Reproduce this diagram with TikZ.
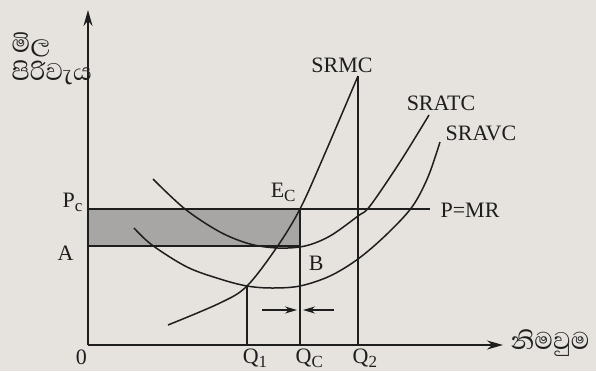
\documentclass[tikz,border=0pt]{standalone}
\usepackage{fontspec}
\setmainfont{Liberation Serif}
\newfontfamily\sinhala[Script=Sinhala]{Abhaya Libre}
\usetikzlibrary{arrows.meta}
\definecolor{paper}{RGB}{230,227,223}
\definecolor{boxgray}{RGB}{168,166,165}
\definecolor{ink}{RGB}{30,30,30}
\newcommand\lowsub[1]{\raisebox{-0.45ex}{\fontsize{8.5}{8.5}\selectfont #1}}
\begin{document}
\begin{tikzpicture}[x=0.5pt,y=-0.5pt,line width=0.75pt,draw=ink,
  lbl/.style={font=\fontsize{11}{13}\selectfont,inner sep=0pt,text=ink},
  sin/.style={font=\sinhala\fontsize{15.5}{17}\selectfont,inner sep=0pt,text=ink},
  axis/.style={line width=0.9pt,-{Stealth[length=8pt,width=4.5pt]}},
  small/.style={line width=0.7pt,-{Stealth[length=6pt,width=3.5pt]}},
  curve/.style={smooth,tension=0.55}]
\fill[paper] (0,0) rectangle (596,371);
\useasboundingbox (0,0) rectangle (596,371);
% key points
\coordinate (O) at (88,345);
\coordinate (ytip) at (88,10);
\coordinate (xtip) at (503,345);
\coordinate (Pc) at (88,209);
\coordinate (Aa) at (88,246);
\coordinate (Ec) at (300,209);
\coordinate (Bp) at (300,246);
\coordinate (PMR) at (430,209);
\coordinate (Q1top) at (247,286);
\coordinate (Q1) at (247,345);
\coordinate (Qc) at (300,345);
\coordinate (Q2top) at (358,76);
\coordinate (Q2) at (358,345);
\coordinate (la) at (262,310);
\coordinate (lb) at (297,310);
\coordinate (ra) at (334,310);
\coordinate (rb) at (303,310);
% shaded area
\fill[boxgray] (Pc) rectangle (Bp);
\draw (Pc) -- (PMR);
\draw (Aa) -- (Bp);
% verticals
\draw (Q1top) -- (Q1);
\draw (Ec) -- (Qc);
\draw (Q2top) -- (Q2);
% curves
\draw plot[curve] coordinates {(168,325) (220,303) (247,286) (277,247) (300,209) (323,158) (358,76)};
\draw plot[curve] coordinates {(153,179) (185,209) (220,232) (250,244) (278,248) (305,246) (330,236) (358,216) (370,206) (400,162) (429,115)};
\draw plot[curve] coordinates {(134,228) (152,245) (187,267) (220,279) (247,286) (272,288) (300,286) (330,276) (358,259) (386,235) (412,207) (428,177) (440,142)};
% small arrows
\draw[small] (la) -- (lb);
\draw[small] (ra) -- (rb);
% axes
\draw[axis] (O) -- (ytip);
\draw[axis] (O) -- (xtip);
% labels
\node[lbl] (lSRMC) at (342,65) {SRMC};
\node[lbl] (lSRATC) at (441,103) {SRATC};
\node[lbl] (lSRAVC) at (481,133) {SRAVC};
\node[lbl] (lPMR) at (470,210) {P=MR};
\node[lbl,anchor=base west] (lEc) at (270,197) {E\lowsub{C}};
\node[lbl,anchor=base west] (lPc) at (62,207) {P\lowsub{c}};
\node[lbl,anchor=base west] (lA) at (57,260) {A};
\node[lbl,anchor=base west] (lB) at (308,270) {B};
\node[lbl,anchor=base west] (l0) at (75,364) {0};
\node[lbl,anchor=base west] (lQ1) at (242,363) {Q\lowsub{1}};
\node[lbl,anchor=base west] (lQc) at (295,363) {Q\lowsub{C}};
\node[lbl,anchor=base west] (lQ2) at (352,363) {Q\lowsub{2}};
\node[sin,anchor=base west] (lprice) at (11,52) {මිල};
\node[sin,anchor=base west] (lcost) at (11,80) {පිරිවැය};
\node[sin] (lout) at (550,343) {නිමවුම};
\end{tikzpicture}
\end{document}
